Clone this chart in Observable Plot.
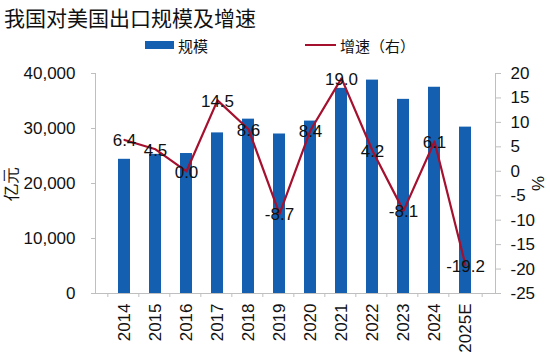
<!DOCTYPE html>
<html><head><meta charset="utf-8">
<script src="https://cdn.jsdelivr.net/npm/d3@7"></script>
<script src="https://cdn.jsdelivr.net/npm/@observablehq/plot@0.6"></script>
<style>
body{margin:0;background:#fff;font-family:"Liberation Sans",Arial,sans-serif;}
#wrap{width:550px;position:relative;}
#title{position:absolute;left:4px;top:4px;font-family:"Noto Sans CJK SC";font-size:21px;line-height:26px;color:#111;}
#legend{position:absolute;top:35px;left:0;width:550px;height:20px;font-family:"Noto Sans CJK SC";font-size:15px;color:#111;}
.lg{position:absolute;top:0;display:flex;align-items:center;height:20px;}
#header{height:55px;position:relative;}
</style></head>
<body><div id="wrap"><div id="header"><div id="title">我国对美国出口规模及增速</div>
<div id="legend">
<div class="lg" style="left:145px"><span style="display:inline-block;width:29px;height:8px;background:#155fb0;margin-right:4px"></span>规模</div>
<div class="lg" style="left:305px"><span style="display:inline-block;width:31px;height:2px;background:#a5102e;margin-right:4px"></span>增速（右）</div>
</div></div><div id="chart"></div></div>
<script>
const years = ["2014","2015","2016","2017","2018","2019","2020","2021","2022","2023","2024","2025E"];
const scale = [24400, 25300, 25450, 29200, 31700, 29000, 31350, 37300, 38800, 35300, 37500, 30250];
const growth = [6.4, 4.5, 0.0, 14.5, 8.6, -8.7, 8.4, 19.0, 4.2, -8.1, 6.1, -19.2];
const leftTicks = [0, 10000, 20000, 30000, 40000];
const rightTicks = [-25, -20, -15, -10, -5, 0, 5, 10, 15, 20];

const gMin = -25, gMax = 20, yMax = 40000;
const toLeft = g => (g - gMin) / (gMax - gMin) * yMax;
const fromLeft = v => Math.round(v / yMax * (gMax - gMin) + gMin);

const data = years.map((y, i) => ({year: y, scale: scale[i], growth: growth[i], gy: toLeft(growth[i])}));
const axisColor = "#bfbfbf";
const W = 550, ML = 95, MR = 55;
const halfBand = (W - ML - MR) / years.length / 2;

const chart = Plot.plot({
  width: W, height: 303,
  marginTop: 18, marginBottom: 65, marginLeft: ML, marginRight: MR,
  style: {fontFamily: "'Liberation Sans', Arial, sans-serif", fontSize: "17px", color: "#111"},
  x: {domain: years, padding: 0.6, label: null},
  y: {domain: [0, yMax], label: null},
  marks: [
    Plot.frame({anchor: "left", stroke: axisColor}),
    Plot.frame({anchor: "right", stroke: axisColor}),
    Plot.barY(data, {x: "year", y: "scale", fill: "#155fb0"}),
    Plot.frame({anchor: "bottom", stroke: axisColor}),
    Plot.line(data, {x: "year", y: "gy", stroke: "#a5102e", strokeWidth: 2.2}),
    Plot.text(data, {x: "year", y: "gy", text: d => d.growth.toFixed(1), fill: "#111", fontSize: 17, dy: 1}),
    Plot.axisY({ticks: leftTicks, anchor: "left", tickFormat: d => d3.format(",")(d), tickSize: 4, tickPadding: 16, stroke: axisColor, label: "亿元", labelAnchor: "center", labelOffset: 91, labelArrow: "none", fontSize: 17}),
    Plot.axisY({ticks: rightTicks.map(toLeft), anchor: "right", tickFormat: d => String(fromLeft(d)), tickSize: 5, tickPadding: 10, stroke: axisColor, label: "%", labelAnchor: "center", labelOffset: 48, labelArrow: "none", fontSize: 17}),
    Plot.axisX({tickSize: 0, tickPadding: 10, tickRotate: -90, fontSize: 17, label: null}),
    Plot.axisX({tickSize: 4, text: null, stroke: axisColor, dx: -halfBand, label: null}),
    Plot.axisX({ticks: [years[years.length - 1]], tickSize: 4, text: null, stroke: axisColor, dx: halfBand, label: null})
  ]
});
document.getElementById("chart").appendChild(chart);
</script></body></html>
